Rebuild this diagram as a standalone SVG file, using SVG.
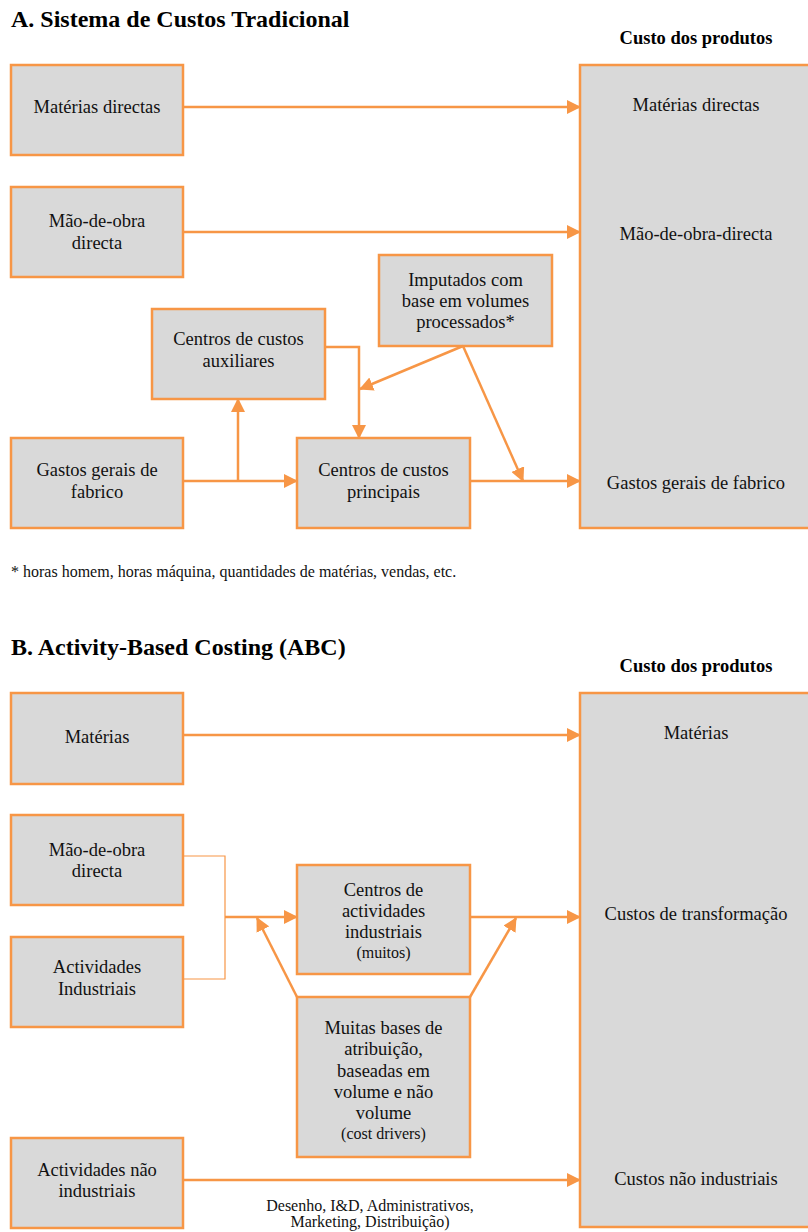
<svg xmlns="http://www.w3.org/2000/svg" width="808" height="1232" viewBox="0 0 808 1232">
<style>
.box{fill:#D9D9D9;stroke:#F79646;stroke-width:2.5}
.t{font-family:"Liberation Serif","Times New Roman",serif;font-size:18.5px;fill:#111;text-anchor:middle}
.s{font-family:"Liberation Serif","Times New Roman",serif;font-size:16px;fill:#111;text-anchor:middle}
.h{font-family:"Liberation Serif","Times New Roman",serif;font-size:24px;font-weight:bold;fill:#000}
.hp{font-family:"Liberation Serif","Times New Roman",serif;font-size:18.5px;font-weight:bold;fill:#000;text-anchor:middle}
.c{fill:none;stroke:#F79646;stroke-width:2.5}
.a{marker-end:url(#ah)}
.thin{fill:none;stroke:#F79646;stroke-width:1.2}
</style>
<defs>
<marker id="ah" viewBox="0 0 14 14" refX="13" refY="7" markerWidth="14" markerHeight="14" orient="auto" markerUnits="userSpaceOnUse">
<path d="M0,0 L14,7 L0,14 z" fill="#F79646"/>
</marker>
</defs>
<rect width="808" height="1232" fill="#fff"/>

<text class="h" x="11" y="27">A. Sistema de Custos Tradicional</text>
<text class="hp" x="696" y="44">Custo dos produtos</text>

<g id="a-custo">
<rect class="box" x="580" y="65" width="232" height="463"/>
<text class="t" x="696" y="111">Matérias directas</text>
<text class="t" x="696" y="240">Mão-de-obra-directa</text>
<text class="t" x="696" y="489">Gastos gerais de fabrico</text>
</g>
<g id="a-materias">
<rect class="box" x="11" y="65" width="172" height="90"/>
<text class="t" x="97" y="113">Matérias directas</text>
</g>
<g id="a-mao">
<rect class="box" x="11" y="187" width="172" height="90"/>
<text class="t" x="97" y="227">Mão-de-obra</text>
<text class="t" x="97" y="249">directa</text>
</g>
<g id="a-gastos">
<rect class="box" x="11" y="438" width="172" height="90"/>
<text class="t" x="97" y="476">Gastos gerais de</text>
<text class="t" x="97" y="498">fabrico</text>
</g>
<g id="a-auxiliares">
<rect class="box" x="152" y="309" width="173" height="90"/>
<text class="t" x="238.5" y="345">Centros de custos</text>
<text class="t" x="238.5" y="367">auxiliares</text>
</g>
<g id="a-imputados">
<rect class="box" x="379" y="255" width="173" height="91"/>
<text class="t" x="465.5" y="286">Imputados com</text>
<text class="t" x="465.5" y="307">base em volumes</text>
<text class="t" x="465.5" y="328">processados*</text>
</g>
<g id="a-principais">
<rect class="box" x="297" y="438" width="173" height="90"/>
<text class="t" x="383.5" y="476">Centros de custos</text>
<text class="t" x="383.5" y="498">principais</text>
</g>
<g id="a-connectors">
<path class="c a" d="M183,107 H580"/>
<path class="c a" d="M183,232 H580"/>
<path class="c a" d="M183,481 H297"/>
<path class="c a" d="M238,481 V399"/>
<path class="c a" d="M325,347 H359 V438"/>
<path class="c a" d="M463,346 L360,389"/>
<path class="c a" d="M463,346 L523,481"/>
<path class="c a" d="M470,481 H580"/>
</g>
<text x="11" y="577" font-family="'Liberation Serif','Times New Roman',serif" font-size="16" fill="#111">* horas homem, horas máquina, quantidades de matérias, vendas, etc.</text>

<text class="h" x="11" y="655">B. Activity-Based Costing (ABC)</text>
<text class="hp" x="696" y="672">Custo dos produtos</text>

<g id="b-custo">
<rect class="box" x="580" y="693" width="232" height="534"/>
<text class="t" x="696" y="739">Matérias</text>
<text class="t" x="696" y="920">Custos de transformação</text>
<text class="t" x="696" y="1185">Custos não industriais</text>
</g>
<g id="b-materias">
<rect class="box" x="11" y="693" width="172" height="91"/>
<text class="t" x="97" y="743">Matérias</text>
</g>
<g id="b-mao">
<rect class="box" x="11" y="815" width="172" height="90"/>
<text class="t" x="97" y="856">Mão-de-obra</text>
<text class="t" x="97" y="877">directa</text>
</g>
<g id="b-actind">
<rect class="box" x="11" y="937" width="172" height="90"/>
<text class="t" x="97" y="973">Actividades</text>
<text class="t" x="97" y="995">Industriais</text>
</g>
<g id="b-centros">
<rect class="box" x="297" y="865" width="173" height="109"/>
<text class="t" x="383.5" y="896">Centros de</text>
<text class="t" x="383.5" y="917">actividades</text>
<text class="t" x="383.5" y="938">industriais</text>
<text class="s" x="383.5" y="958">(muitos)</text>
</g>
<g id="b-bases">
<rect class="box" x="297" y="997" width="173" height="160"/>
<text class="t" x="383.5" y="1034">Muitas bases de</text>
<text class="t" x="383.5" y="1055">atribuição,</text>
<text class="t" x="383.5" y="1077">baseadas em</text>
<text class="t" x="383.5" y="1098">volume e não</text>
<text class="t" x="383.5" y="1119">volume</text>
<text class="s" x="383.5" y="1139">(cost drivers)</text>
</g>
<g id="b-actnao">
<rect class="box" x="11" y="1138" width="172" height="90"/>
<text class="t" x="97" y="1176">Actividades não</text>
<text class="t" x="97" y="1197">industriais</text>
</g>
<g id="b-connectors">
<path class="c a" d="M183,735 H580"/>
<path class="thin" d="M183,856 H225 V979 H183"/>
<path class="c a" d="M225,917 H297"/>
<path class="c a" d="M297,997 L257,918"/>
<path class="c a" d="M470,997 L516,918"/>
<path class="c a" d="M470,917 H580"/>
<path class="c a" d="M183,1180 H580"/>
</g>
<text class="s" x="370" y="1211">Desenho, I&amp;D, Administrativos,</text>
<text class="s" x="370" y="1227">Marketing, Distribuição)</text>
</svg>
